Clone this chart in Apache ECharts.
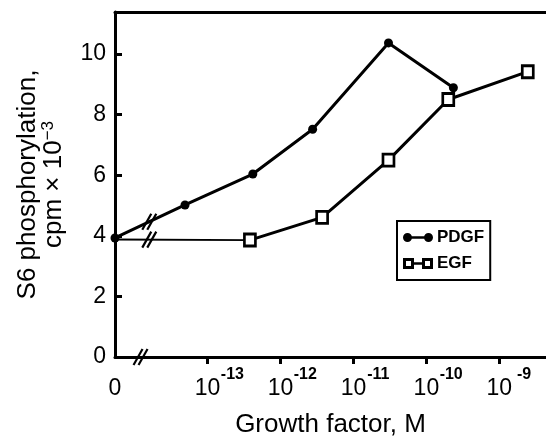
<!DOCTYPE html>
<html>
<head>
<meta charset="utf-8">
<script src="https://cdn.jsdelivr.net/npm/echarts@6/dist/echarts.min.js"></script>
<style>
html,body{margin:0;padding:0;background:#fff;}
#c{width:546px;height:441px;}
</style>
</head>
<body>
<div id="c"></div>
<script>
// ---- data (x in log10 molar units; the "0" point sits at ZERO_POS) ----
const ZERO_POS = -14.27;
const pdgfX = [ZERO_POS, -13.31, -12.38, -11.56, -10.52, -9.63];
const pdgfY = [3.93, 5.02, 6.04, 7.52, 10.37, 8.89];
const egfX  = [ZERO_POS, -12.42, -11.43, -10.52, -9.70, -8.61];
const egfY  = [3.88, 3.86, 4.61, 6.50, 8.50, 9.42];
const xTickValues = [-13, -12, -11, -10, -9];
const xTickExponents = ['-13', '-12', '-11', '-10', '-9'];
const yTickValues = [0, 2, 4, 6, 8, 10];
const AXIS_BREAK_X = -13.92;
const LINE_BREAK_X = -13.80;

const FONT = '"Liberation Sans", Arial, Helvetica, sans-serif';
const xMin = ZERO_POS, xMax = -8.36, yMin = 0, yMax = 11.39;

function interp(xs, ys, x) {
  for (let i = 0; i < xs.length - 1; i++) {
    if (x >= xs[i] && x <= xs[i + 1]) {
      const t = (x - xs[i]) / (xs[i + 1] - xs[i]);
      return ys[i] + t * (ys[i + 1] - ys[i]);
    }
  }
  return ys[0];
}
const breaks = [
  [AXIS_BREAK_X, 0],
  [LINE_BREAK_X, interp(pdgfX, pdgfY, LINE_BREAK_X)],
  [LINE_BREAK_X, interp(egfX, egfY, LINE_BREAK_X)]
];

const pdgfData = pdgfX.map((x, i) => [x, pdgfY[i]]);
const egfData = egfX.map((x, i) => [x, egfY[i]]);

const iconP = 'path://M0,5A4.5,4.5 0 1 1 9,5A4.5,4.5 0 1 1 0,5Z M7,3.8L23,3.8L23,6.2L7,6.2Z M21,5A4.5,4.5 0 1 1 30,5A4.5,4.5 0 1 1 21,5Z';
const iconE = 'path://M0,0L11,0L11,11L0,11Z M3,3L3,8L8,8L8,3Z M11,4.3L19,4.3L19,6.7L11,6.7Z M19,0L30,0L30,11L19,11Z M22,3L22,8L27,8L27,3Z';

const chart = echarts.init(document.getElementById('c'), null, {renderer: 'canvas'});
chart.setOption({
  animation: false,
  backgroundColor: '#fff',
  grid: {left: 115, right: 0, top: 12, bottom: 84, containLabel: false, outerBoundsMode: 'none'},
  legend: {
    orient: 'vertical', left: 397, top: 221,
    borderColor: '#000', borderWidth: 2, borderRadius: 0,
    padding: [8, 6, 8, 6], itemGap: 9,
    itemWidth: 30, itemHeight: 11,
    textStyle: {fontFamily: FONT, fontSize: 17, fontWeight: 'bold', color: '#000', padding: [0, 0, 0, -1]},
    data: [
      {name: 'PDGF', icon: iconP, itemStyle: {color: '#000', borderWidth: 0}},
      {name: 'EGF', icon: iconE, itemStyle: {color: '#000', borderWidth: 0}}
    ]
  },
  xAxis: [{
    type: 'value', min: xMin, max: xMax,
    name: 'Growth factor, M', nameLocation: 'middle', nameGap: 55,
    nameTextStyle: {fontFamily: FONT, fontSize: 26, color: '#000'},
    axisLine: {show: true, lineStyle: {color: '#000', width: 3}},
    axisTick: {show: true, inside: false, length: 7, lineStyle: {color: '#000', width: 3}, customValues: xTickValues},
    splitLine: {show: false},
    axisLabel: {
      show: true, margin: 6, color: '#000', fontFamily: FONT,
      customValues: [ZERO_POS].concat(xTickValues),
      formatter: function (v) {
        if (Math.abs(v - ZERO_POS) < 1e-6) return '{z|0}';
        const i = xTickValues.findIndex(t => Math.abs(t - v) < 1e-6);
        return '{p|}{b|10}{s|' + xTickExponents[i] + '}';
      },
      rich: {
        z: {fontFamily: FONT, fontSize: 23, color: '#000', padding: [14, 0, 0, 0]},
        p: {width: 24},
        b: {fontFamily: FONT, fontSize: 23, color: '#000', padding: [14, 0, 0, 0]},
        s: {fontFamily: FONT, fontSize: 16, fontWeight: 'bold', color: '#000', width: 24, align: 'left', padding: [0, 0, 14, 0]}
      }
    }
  }, {
    type: 'value', position: 'top', min: xMin, max: xMax,
    axisLine: {show: true, lineStyle: {color: '#000', width: 3}},
    axisTick: {show: false}, axisLabel: {show: false}, splitLine: {show: false}
  }],
  yAxis: {
    type: 'value', min: yMin, max: yMax,
    name: '{a|S6 phosphorylation,}\n{a|cpm × 10}{s|−3}',
    nameLocation: 'middle', nameRotate: 90, nameGap: 48,
    nameTextStyle: {
      fontFamily: FONT, fontSize: 26, color: '#000', align: 'center',
      rich: {
        a: {fontFamily: FONT, fontSize: 26, color: '#000', lineHeight: 26},
        s: {fontFamily: FONT, fontSize: 17, color: '#000', padding: [0, 0, 12, 0], lineHeight: 26}
      }
    },
    axisLine: {show: true, lineStyle: {color: '#000', width: 3}},
    axisTick: {show: true, inside: true, length: 7, lineStyle: {color: '#000', width: 3}, customValues: yTickValues},
    axisLabel: {show: true, margin: 9, fontFamily: FONT, fontSize: 23, color: '#000', customValues: yTickValues},
    splitLine: {show: false}
  },
  series: [
    {
      name: 'PDGF', type: 'line', data: pdgfData,
      symbol: 'circle', symbolSize: 9, showSymbol: true,
      lineStyle: {color: '#000', width: 3},
      itemStyle: {color: '#000', borderWidth: 0},
      z: 3
    },
    {
      name: 'EGF-base', type: 'line', data: egfData.slice(0, 2),
      symbol: 'none', lineStyle: {color: '#000', width: 1.8}, z: 2
    },
    {
      name: 'EGF', type: 'line', data: egfData.slice(1),
      symbol: 'rect', symbolSize: [11, 12], showSymbol: true,
      lineStyle: {color: '#000', width: 3},
      itemStyle: {color: '#fff', borderColor: '#000', borderWidth: 2.8},
      z: 4
    },
    {
      name: 'breaks', type: 'custom', data: breaks, clip: false, z: 6,
      renderItem: function (params, api) {
        const p = api.coord([api.value(0), api.value(1)]);
        const mk = (dx) => ({
          type: 'line',
          shape: {x1: p[0] + dx - 4.5, y1: p[1] + 8, x2: p[0] + dx + 4.5, y2: p[1] - 8},
          style: {stroke: '#000', lineWidth: 2.2}
        });
        return {type: 'group', children: [mk(-2.5), mk(2.5)]};
      }
    }
  ]
});
</script>
</body>
</html>
